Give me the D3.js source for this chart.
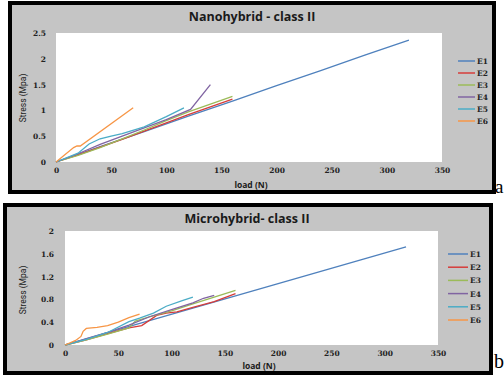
<!DOCTYPE html>
<html>
<head>
<meta charset="utf-8">
<script src="https://cdn.jsdelivr.net/npm/d3@7"></script>
<style>
  body { margin: 0; background: #fff; }
  svg { display: block; }
</style>
</head>
<body>
<div class="chart"></div>
<script>
'use strict';

// Data: [load (N), stress (MPa)]
const seriesNames = ['E1', 'E2', 'E3', 'E4', 'E5', 'E6'];
const xTicks = [0, 50, 100, 150, 200, 250, 300, 350];
const nanoYTicks = [0, 0.5, 1, 1.5, 2, 2.5];
const microYTicks = [0, 0.4, 0.8, 1.2, 1.6, 2];

const nanoE1 = [[0, 0], [40, 0.3], [80, 0.59], [120, 0.89], [160, 1.18], [200, 1.48], [240, 1.77], [280, 2.07], [320, 2.36]];
const nanoE2 = [[0, 0], [20, 0.14], [40, 0.29], [60, 0.44], [80, 0.6], [100, 0.76], [120, 0.92], [140, 1.07], [160, 1.22]];
const nanoE3 = [[0, 0], [20, 0.13], [40, 0.28], [60, 0.45], [80, 0.62], [100, 0.8], [120, 0.97], [140, 1.12], [160, 1.27]];
const nanoE4 = [[0, 0], [20, 0.16], [40, 0.34], [60, 0.5], [80, 0.66], [100, 0.82], [122, 1.02], [140, 1.5]];
const nanoE5 = [[0, 0], [20, 0.17], [30, 0.35], [40, 0.45], [50, 0.5], [60, 0.55], [80, 0.68], [100, 0.88], [116, 1.05]];
const nanoE6 = [[0, 0], [16, 0.28], [19, 0.31], [22, 0.31], [70, 1.05]];

const microE1 = [[0, 0], [40, 0.215], [80, 0.43], [120, 0.645], [160, 0.86], [200, 1.075], [240, 1.29], [280, 1.505], [320, 1.72]];
const microE2 = [[0, 0], [20, 0.09], [40, 0.2], [60, 0.3], [72, 0.34], [86, 0.52], [95, 0.56], [105, 0.58], [120, 0.66], [140, 0.76], [160, 0.9]];
const microE3 = [[0, 0], [20, 0.09], [40, 0.19], [60, 0.3], [66, 0.42], [80, 0.5], [100, 0.6], [120, 0.72], [140, 0.84], [160, 0.96]];
const microE4 = [[0, 0], [20, 0.11], [40, 0.22], [60, 0.35], [80, 0.5], [100, 0.62], [120, 0.74], [130, 0.82], [140, 0.87]];
const microE5 = [[0, 0], [20, 0.1], [40, 0.22], [60, 0.41], [70, 0.47], [83, 0.56], [95, 0.68], [110, 0.78], [120, 0.84]];
const microE6 = [[0, 0], [10, 0.08], [15, 0.15], [17, 0.24], [20, 0.29], [30, 0.31], [40, 0.34], [50, 0.4], [60, 0.48], [70, 0.54]];

const colors = ['#4f81bd', '#d63c3a', '#9bbb59', '#8064a2', '#4bacc6', '#f79646'];

const w = 504;
const h = 376;

const svg = d3.select('.chart')
  .append('svg')
  .attr('width', w)
  .attr('height', h);

function drawPanel(p) {
  const g = svg.append('g');

  // Frame
  g.append('rect')
    .attr('x', p.box[0] + 2)
    .attr('y', p.box[1] + 2)
    .attr('width', p.box[2] - 4)
    .attr('height', p.box[3] - 4)
    .attr('fill', '#c5c5c5')
    .attr('stroke', '#000')
    .attr('stroke-width', 4);

  // Plot area
  g.append('rect')
    .attr('x', p.plot[0])
    .attr('y', p.plot[1])
    .attr('width', p.plot[2] - p.plot[0])
    .attr('height', p.plot[3] - p.plot[1])
    .attr('fill', '#fff');

  const xScale = d3.scaleLinear().domain([0, 350]).range([p.plot[0], p.plot[2]]);
  const yScale = d3.scaleLinear().domain([0, p.yMax]).range([p.plot[3], p.plot[1]]);

  const xAxis = d3.axisBottom(xScale).tickValues(xTicks).tickSize(0).tickPadding(6);
  const yAxis = d3.axisLeft(yScale).tickValues(p.yTicks).tickSize(0)
    .tickPadding(p.yPad).tickFormat(d => String(d));

  const ax = g.append('g')
    .attr('transform', `translate(0, ${p.plot[3]})`)
    .call(xAxis);
  const ay = g.append('g')
    .attr('transform', `translate(${p.plot[0]}, 0)`)
    .call(yAxis);

  [ax, ay].forEach(a => {
    a.select('.domain').remove();
    a.selectAll('text')
      .attr('font-family', '"DejaVu Serif", serif')
      .attr('font-weight', 'bold')
      .attr('font-size', 7.5)
      .attr('fill', '#222');
  });

  // Lines
  const line = d3.line()
    .x(d => xScale(d[0]))
    .y(d => yScale(d[1]));

  g.selectAll('path.series')
    .data(p.series)
    .enter()
    .append('path')
    .attr('class', 'series')
    .attr('fill', 'none')
    .attr('stroke', (d, i) => colors[i])
    .attr('stroke-width', 1.3)
    .attr('d', line);

  // Title
  g.append('text')
    .attr('x', p.titleX)
    .attr('y', p.titleY)
    .attr('text-anchor', 'middle')
    .attr('font-family', '"Open Sans", sans-serif')
    .attr('font-weight', 'bold')
    .attr('font-size', 12.5)
    .attr('fill', '#1a1a1a')
    .text(p.title);

  // Axis titles
  g.append('text')
    .attr('x', p.xTitle[0])
    .attr('y', p.xTitle[1])
    .attr('text-anchor', 'middle')
    .attr('font-family', '"Open Sans", sans-serif')
    .attr('font-weight', 'bold')
    .attr('font-size', 8.5)
    .attr('fill', '#1a1a1a')
    .text('load (N)');

  g.append('text')
    .attr('transform', `translate(${p.yTitle[0]}, ${p.yTitle[1]}) rotate(-90)`)
    .attr('text-anchor', 'middle')
    .attr('font-family', '"Liberation Sans Narrow", "Roboto", sans-serif')
    .attr('font-size', 8.5)
    .attr('fill', '#1a1a1a')
    .text('Stress (Mpa)');

  // Legend
  const legend = g.selectAll('.legend')
    .data(seriesNames)
    .enter()
    .append('g')
    .attr('class', 'legend')
    .attr('transform', (d, i) => `translate(0, ${p.legend.y + i * p.legend.step})`);

  legend.append('line')
    .attr('x1', p.legend.x1)
    .attr('x2', p.legend.x2)
    .attr('stroke', (d, i) => colors[i])
    .attr('stroke-width', 1.5);

  legend.append('text')
    .attr('x', p.legend.x2 + 2)
    .attr('dy', 3)
    .attr('font-family', '"DejaVu Serif", serif')
    .attr('font-weight', 'bold')
    .attr('font-size', 7.5)
    .attr('fill', '#222')
    .text(d => d);
}

drawPanel({
  box: [8, 1, 488, 193],
  plot: [56, 33, 442, 162],
  yMax: 2.5,
  yTicks: nanoYTicks,
  yPad: 10,
  series: [nanoE1, nanoE2, nanoE3, nanoE4, nanoE5, nanoE6],
  title: 'Nanohybrid - class II',
  titleX: 252, titleY: 21,
  xTitle: [251, 188],
  yTitle: [26, 98],
  legend: { x1: 458, x2: 475, y: 61, step: 12 }
});

drawPanel({
  box: [3, 203, 490, 172],
  plot: [65, 231, 438, 345],
  yMax: 2,
  yTicks: microYTicks,
  yPad: 11,
  series: [microE1, microE2, microE3, microE4, microE5, microE6],
  title: 'Microhybrid- class II',
  titleX: 247, titleY: 223,
  xTitle: [259, 369],
  yTitle: [26, 290],
  legend: { x1: 448, x2: 468, y: 254, step: 13.2 }
});

// Panel letters
svg.append('text')
  .attr('x', 495)
  .attr('y', 193)
  .attr('font-family', '"Liberation Serif", serif')
  .attr('font-size', 19)
  .text('a');

svg.append('text')
  .attr('x', 494)
  .attr('y', 368)
  .attr('font-family', '"Liberation Serif", serif')
  .attr('font-size', 20)
  .text('b');
</script>
</body>
</html>
